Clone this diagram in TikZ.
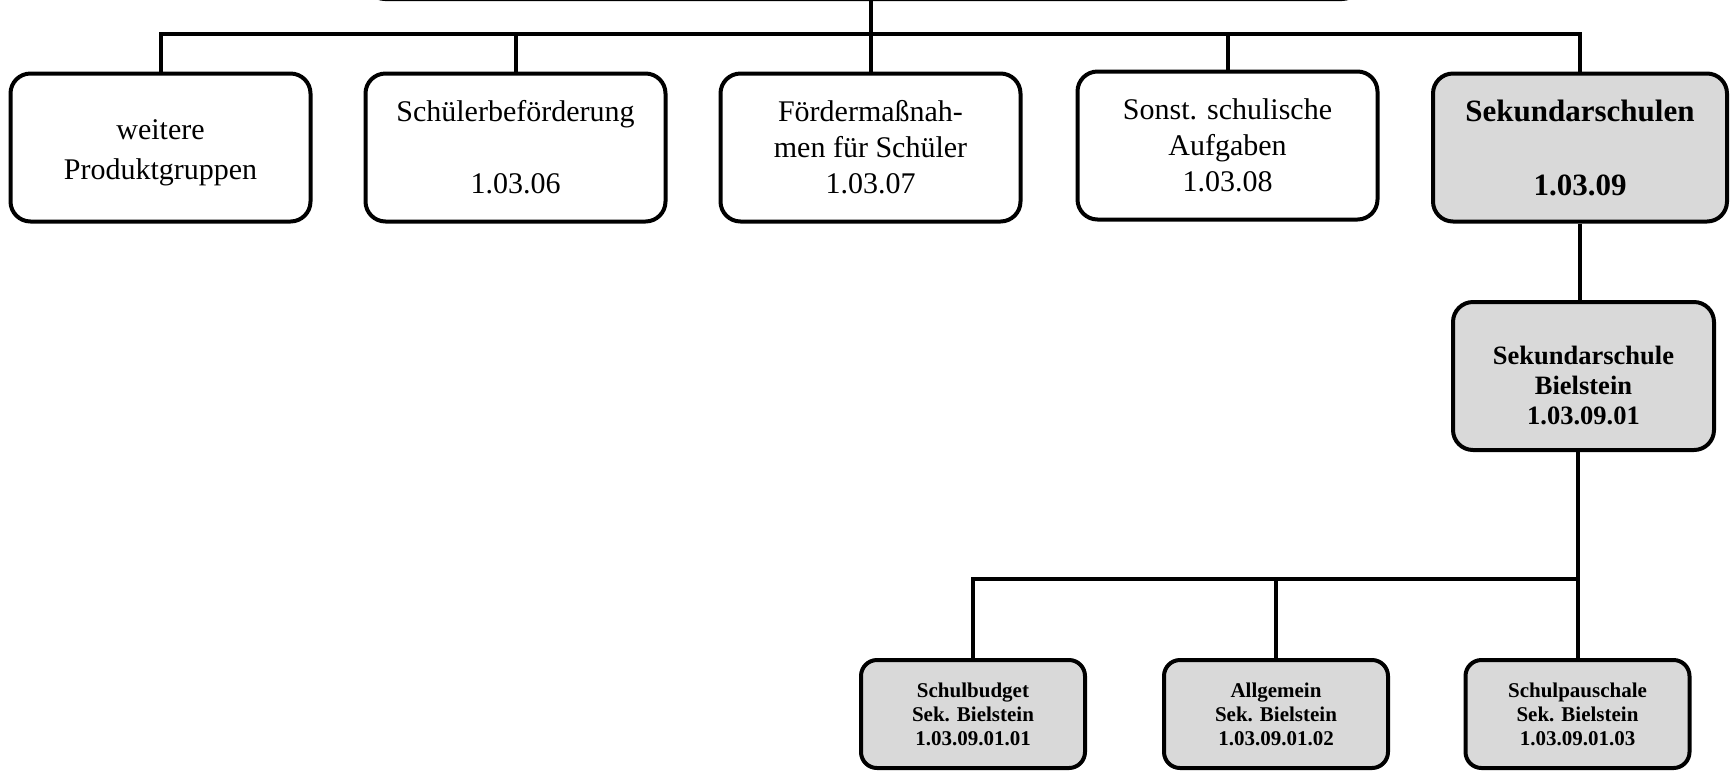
\documentclass[tikz,border=0pt]{standalone}
\usepackage{fontspec}
\setmainfont{Liberation Serif}
\definecolor{boxgray}{HTML}{D9D9D9}
\newcommand{\toppad}[1]{\rule{0pt}{#1}}
\tikzset{
  box/.style={draw=black, line width=2pt, rounded corners=10pt, align=center, inner sep=0pt,
              minimum width=150pt, minimum height=74pt,
              font=\fontsize{15}{18}\selectfont},
  graybox/.style={box, fill=boxgray},
  midbox/.style={graybox, minimum width=130.5pt, minimum height=74pt,
              font=\bfseries\fontsize{13.25}{15}\selectfont},
  lowbox/.style={graybox, rounded corners=8pt, minimum width=112pt, minimum height=54pt,
              font=\bfseries\fontsize{10.5}{12}\selectfont},
  conn/.style={line width=2pt}
}
\begin{document}
\begin{tikzpicture}[x=0.5pt, y=-0.5pt]
\useasboundingbox (0,0) rectangle (1731,773);
% top (cut-off) box
\node[box, minimum width=498.5pt, minimum height=40pt] (top) at (863.5,-41) {};
% first row
\node[box, font=\fontsize{15}{20}\selectfont] (b1) at (160.5,147.5) {\toppad{14.8pt}weitere\\Produktgruppen};
\node[box] (b2) at (515.5,147.5) {Schülerbeförderung\\~\\1.03.06};
\node[box] (b3) at (870.5,147.5) {Fördermaßnah-\\men für Schüler\\1.03.07};
\node[box] (b4) at (1227.5,145.5) {Sonst. schulische\\Aufgaben\\1.03.08};
\node[graybox, minimum width=147pt, font=\bfseries\fontsize{15.5}{18.5}\selectfont] (b5) at (1580,147.5) {Sekundarschulen\\~\\1.03.09};
% second level
\node[midbox] (b6) at (1583.5,376) {\toppad{19pt}Sekundarschule\\Bielstein\\1.03.09.01};
% third level
\node[lowbox] (c1) at (973,714) {Schulbudget\\Sek. Bielstein\\1.03.09.01.01};
\node[lowbox] (c2) at (1276,714) {Allgemein\\Sek. Bielstein\\1.03.09.01.02};
\node[lowbox] (c3) at (1577.5,714) {Schulpauschale\\Sek. Bielstein\\1.03.09.01.03};
% bus coordinates
\coordinate (bus) at (0,34);
\coordinate (bus2) at (0,579);
% connectors, first level
\draw[conn] (b3.north) -- (b3.north |- top.south);
\draw[conn] (b1.north) -- (b1.north |- bus) -- (b5.north |- bus) -- (b5.north);
\draw[conn] (b2.north) -- (b2.north |- bus);
\draw[conn] (b4.north) -- (b4.north |- bus);
% second level
\draw[conn] (b5.south) -- (b5.south |- b6.north);
% third level
\draw[conn] (c3.north |- b6.south) -- (c3.north);
\draw[conn] (c1.north) -- (c1.north |- bus2) -- (c3.north |- bus2);
\draw[conn] (c2.north) -- (c2.north |- bus2);
\end{tikzpicture}
\end{document}
